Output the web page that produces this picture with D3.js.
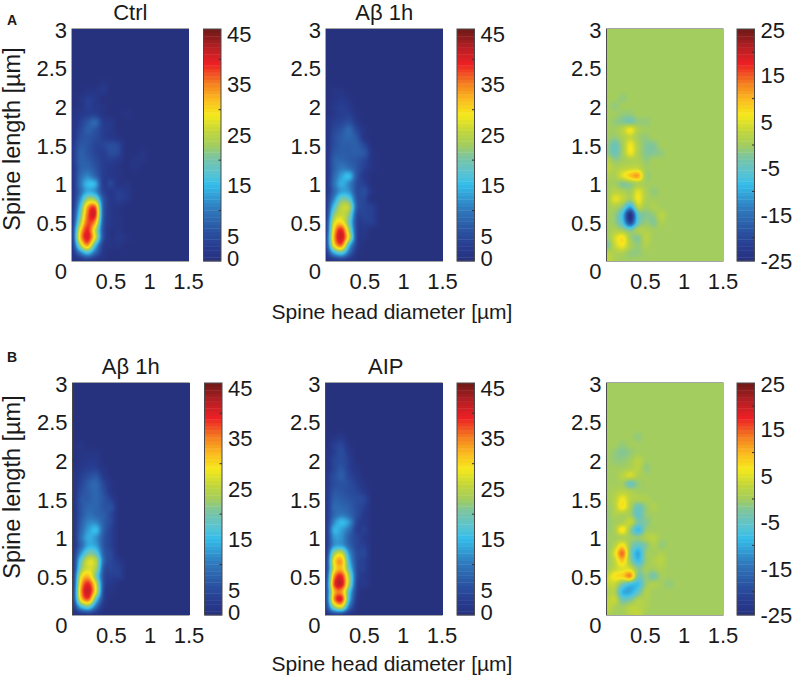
<!DOCTYPE html>
<html><head><meta charset="utf-8">
<script src="https://cdn.jsdelivr.net/npm/d3@7"></script>
<style>html,body{margin:0;padding:0;background:#fff}#c{position:relative;width:797px;height:679px;overflow:hidden}canvas{position:absolute}svg{position:absolute;left:0;top:0}text{font-family:"Liberation Sans",Arial,sans-serif;fill:#1a1a1a}</style>
</head><body><div id="c"></div>
<script>
// Rows: spine length 0, 0.1, ... ; columns: head diameter 0, 0.1, ... (missing cells are 0)
const diameters = d3.range(0, 1.0, 0.1);
const lengths = d3.range(0, 2.5, 0.1);
const ctrlA = [
[0,1,2,1],[1,9,15,8,2],[2,22,33,16,3,1,1],[3,30,40,27,6,1,2,1],[3,28,39,26,6,1,1],[2,22,37,33,7,2,1],
[2,18,36,39,8,2,1],[1,15,33,36,8,2,1],[1,11,23,22,7,2,3,2],[1,8,14,12,4,2,3,2],[1,9,15,14,3,4,1,1],[1,8,11,8,3,2,1],
[1,7,8,6,3,2,1,0,1],[2,7,7,5,3,3,2,0,1,1],[2,7,6,4,3,5,4,0,0,1],[2,6,6,4,4,5,4],[1,5,6,5,3,2,1],[1,4,7,6,3,2],
[1,3,6,8,3,2],[1,2,3,3,1,0,0,1],[0,1,3,2,1],[0,1,3,2],[0,0,1,1,2],[0,0,0,0,1],[]];
const abetaA = [
[0,1,2,1],[2,13,17,8,1],[4,28,35,15,3],[4,32,41,26,4,1],[3,30,39,23,4,2],[3,26,30,19,4,3,3],
[2,21,26,21,5,4,3],[2,16,25,24,7,4,3],[2,11,20,18,6,4],[1,8,13,12,5,5,1],[1,9,14,11,5,3],[1,8,13,15,6,2],
[1,7,10,9,6,3,1],[1,7,8,7,6,4,1],[1,6,7,7,7,6,1],[1,5,7,7,7,4],[1,5,7,8,6,1],[1,4,6,8,4,1],
[1,3,4,5,2],[0,2,3,3,1],[0,2,3,2],[0,1,2,1],[0,1,1],[],[]];
const diffA = [
[3,1],[2,1,1,-1,-1],[-3,3,6,1,-1,1],[-1,4,7,0,-2,2],[0,1,0,-3,1,1],[0,-1,-7,-20,-5,-1,-2,1],
[0,-1,-8,-24,-5,-2,-1,2],[0,1,-2,-10,2,0,1],[0,5,3,0,6,1],[0,2,1,0,5,1,-1],[0,0,-2,-1,1],[1,1,5,9,11],
[3,1,2,3,3],[2,-1,0,1,1,-1],[-1,-4,0,6,1,-2,-2,-1],[-1,-4,0,6,1,-2,-2],[0,-1,1,3,0,-1],[0,0,2,6,1],
[0,-1,-2,-3,-1,-1],[0,0,-1,-1],[0,-1],[0,0,-1],[],[],[]];
const abetaB = [
[0,1,2,1],[2,14,18,8,1],[4,29,36,17,3],[4,33,41,27,4,1],[3,31,39,26,5,2],[3,27,32,20,5,3,3],
[2,21,27,23,6,4,3],[2,18,27,24,8,4,2],[2,12,20,18,7,4],[1,8,14,13,6,3],[1,9,14,12,6,3],[1,8,13,15,7,3],
[1,7,11,11,7,4],[1,6,9,8,7,4],[1,6,8,8,6,5],[1,6,7,8,6,3],[1,5,7,8,5,1],[1,4,7,8,4,1],
[1,3,5,6,2],[0,2,3,3,1],[0,1,2,2],[0,1,1,1],[0,1],[],[]];
const aipB = [
[1,3,3,1],[4,21,26,9,1],[5,33,39,15,2],[5,31,34,17,3],[5,36,41,23,4,2],[4,33,39,23,5,2],
[3,27,32,18,5,3],[3,28,33,15,5,3],[2,22,26,12,5,4],[2,12,13,8,4,3],[2,12,12,7,4,2],[2,14,13,9,3,3],
[2,11,15,12,4,2],[2,8,10,8,5,2],[2,8,8,7,5,3],[2,7,7,6,5,4],[2,6,6,5,4,2],[2,5,6,5,3,1],
[2,5,7,4,2],[1,4,6,3,1],[1,4,5,3],[1,3,5,2],[0,3,4,1],[0,1,2],[]];
const diffB = [
[1,0,0,2,3,0],[3,1,0,2,2,1],[2,3,-4,-3,1,1],[1,1,-9,-10,-5,1],[3,3,-3,-7,-8,-1,1,0,-1],[3,7,8,12,-3,-1,-3],
[0,3,5,4,-2,0,0,1],[-1,3,9,-1,-8,-1,1,2],[-1,5,14,-2,-10,-1,0,1],[-1,2,7,-1,-5,-2,1,-1],[0,0,1,0,-1,1,2],[-1,1,7,-1,-8,-1],
[-1,0,1,3,-3,-2],[-1,1,1,0,-5,-1],[-1,2,7,1,-4,-1,1],[0,2,6,2,1,1],[0,1,2,1,0],[0,0,0,-4,-1],
[0,0,2,4,1],[0,0,0,1,2,-1],[0,-1,-1,0,2],[0,-1,-2,-1],[0,0,-1,0,0],[0,0,0,0,-1],[]];

const titles = ["Ctrl","A\u03b2 1h","","A\u03b2 1h","AIP",""];
const xTickValues = [0.5,1,1.5];
const yTickValues = [0.5,1,1.5,2,2.5,3];
const countTicks = [0,5,15,25,35,45];
const countMinor = [10,20,30,40];
const diffTicks = [-25,-15,-5,5,15,25];
const diffMinor = [-20,-10,0,10,20];
const colorStops = [0,.05,.12,.22,.33,.37,.45,.5,.56,.63,.7,.77,.85,.92,1];
const colorValues = ["#27327f","#27398c","#2a4f9f","#2f78bc","#35bdea","#53c3d8","#7dc5a0","#a3cd5e","#c2d63a","#f6e81c","#fbb91f","#f47b20","#ed2024","#b71f24","#6d1a17"];

const W = 116.5, H = 232;
const panels = [
 {d:ctrlA, l:72, t:29, cb:203.5, kind:0},
 {d:abetaA, l:326, t:29, cb:457, kind:0},
 {d:diffA, l:606.5, t:29, cb:737, kind:1},
 {d:abetaB, l:72.5, t:383, cb:204.5, kind:0},
 {d:aipB, l:325.5, t:383, cb:457, kind:0},
 {d:diffB, l:606.5, t:383, cb:737, kind:1}
];
const root = d3.select("#c");
const svg = root.append("svg").attr("width",797).attr("height",679);
const fs = 22;
const fmt = v => String(v);
function cr(p0,p1,p2,p3,t){return .5*(2*p1+(p2-p0)*t+(2*p0-5*p1+4*p2-p3)*t*t+(3*p1-p0-3*p2+p3)*t*t*t);}
panels.forEach((p,i)=>{
  const dom = p.kind ? [-25,25] : [0,46];
  const frac = d3.scaleLinear().domain(dom).range([0,1]).clamp(true);
  const col = d3.scaleLinear().domain(colorStops).range(colorValues).interpolate(d3.interpolateRgb);
  const x = d3.scaleLinear().domain([0,1.5]).range([p.l,p.l+W]);
  const y = d3.scaleLinear().domain([0,3]).range([p.t+H,p.t]);
  // heat map
  const cv = root.append("canvas").attr("width",Math.round(W)).attr("height",H)
    .style("left",p.l+"px").style("top",p.t+"px");
  const ctx = cv.node().getContext("2d");
  const img = ctx.createImageData(Math.round(W),H);
  const get=(r,c)=>{ if(r<0) r=0; if(c<0) c=0; const row=p.d[r]; return row&&row[c]!==undefined?row[c]:0; };
  for(let py=0;py<H;py++)for(let px=0;px<Math.round(W);px++){
    const gx=x.invert(p.l+px+.5)/0.1, gy=y.invert(p.t+py+.5)/0.1;
    const c0=Math.floor(gx), r0=Math.floor(gy), tx=gx-c0, ty=gy-r0;
    const rows=[-1,0,1,2].map(dr=>cr(get(r0+dr,c0-1),get(r0+dr,c0),get(r0+dr,c0+1),get(r0+dr,c0+2),tx));
    const v=cr(rows[0],rows[1],rows[2],rows[3],ty);
    const c=d3.rgb(col(frac(v)));
    const k=(py*Math.round(W)+px)*4;
    img.data[k]=c.r;img.data[k+1]=c.g;img.data[k+2]=c.b;img.data[k+3]=255;
  }
  ctx.putImageData(img,0,0);
  const g = svg.append("g");
  // frame + inner ticks
  g.append("rect").attr("x",p.l).attr("y",p.t).attr("width",W).attr("height",H).attr("fill","none").attr("stroke","#4a4a4a");
  const tick=(xs,fn)=>xs.forEach(v=>fn(v));
  const ln=(a,b,c,d)=>g.append("line").attr("x1",a).attr("y1",b).attr("x2",c).attr("y2",d).attr("stroke","#333");
  tick(xTickValues.slice(0,2),v=>{ln(x(v),p.t+H,x(v),p.t+H-2.5);ln(x(v),p.t,x(v),p.t+2.5);});
  tick(yTickValues.slice(0,5),v=>{ln(p.l,y(v),p.l+2.5,y(v));ln(p.l+W,y(v),p.l+W-2.5,y(v));});
  // tick labels
  g.selectAll(".xl").data(xTickValues).join("text").attr("x",v=>x(v)).attr("y",p.t+H+28).attr("text-anchor","middle").attr("font-size",fs).text(fmt);
  g.selectAll(".yl").data(yTickValues).join("text").attr("x",p.l-5).attr("y",v=>y(v)+8.5).attr("text-anchor","end").attr("font-size",fs).text(fmt);
  g.append("text").attr("x",p.l-5).attr("y",p.t+H+18).attr("text-anchor","end").attr("font-size",fs).text("0");
  if(titles[i]) g.append("text").attr("x",p.l+W/2+(i==4?2:0)).attr("y",p.t-9).attr("text-anchor","middle").attr("font-size",fs).text(titles[i]);
  // colour bar
  const cbW=17.5, levels=d3.range(64);
  const cy=d3.scaleLinear().domain(dom).range([p.t+H,p.t]);
  const band=d3.scaleBand().domain(levels).range([p.t+H,p.t]);
  g.selectAll(".cb").data(levels).join("rect").attr("x",p.cb).attr("width",cbW)
    .attr("y",l=>band(l)).attr("height",band.bandwidth()+.4)
    .attr("fill",l=>col((l+.5)/64));
  g.append("rect").attr("x",p.cb).attr("y",p.t).attr("width",cbW).attr("height",H).attr("fill","none").attr("stroke","#4a4a4a");
  const minor=p.kind?diffMinor:countMinor, lab=p.kind?diffTicks:countTicks;
  minor.forEach(v=>ln(p.cb+cbW,cy(v),p.cb+cbW-2.5,cy(v)));
  g.selectAll(".cl").data(lab).join("text").attr("x",p.cb+cbW+6).attr("text-anchor","start").attr("font-size",fs)
    .attr("y",v=>{let yy=cy(v)+8; if(v==dom[1]) yy+=p.kind?1:4; if(v==dom[0]&&!p.kind) yy-=3; return yy;})
    .text(fmt);
});
const labels=[
 {t:"Spine length [\u00b5m]",x:20,y:139,r:1,s:23.5},{t:"Spine length [\u00b5m]",x:20,y:487,r:1,s:23.5},
 {t:"Spine head diameter [\u00b5m]",x:392,y:319,s:21},{t:"Spine head diameter [\u00b5m]",x:392,y:671,s:21}];
labels.forEach(l=>{
 const tx=svg.append("text").attr("font-size",l.s).attr("text-anchor","middle").text(l.t);
 if(l.r) tx.attr("transform",`translate(${l.x},${l.y}) rotate(-90)`); else tx.attr("x",l.x).attr("y",l.y);
});
svg.append("text").attr("x",7).attr("y",25).attr("font-size",14).attr("font-weight","bold").text("A");
svg.append("text").attr("x",7).attr("y",362).attr("font-size",14).attr("font-weight","bold").text("B");
</script></body></html>
